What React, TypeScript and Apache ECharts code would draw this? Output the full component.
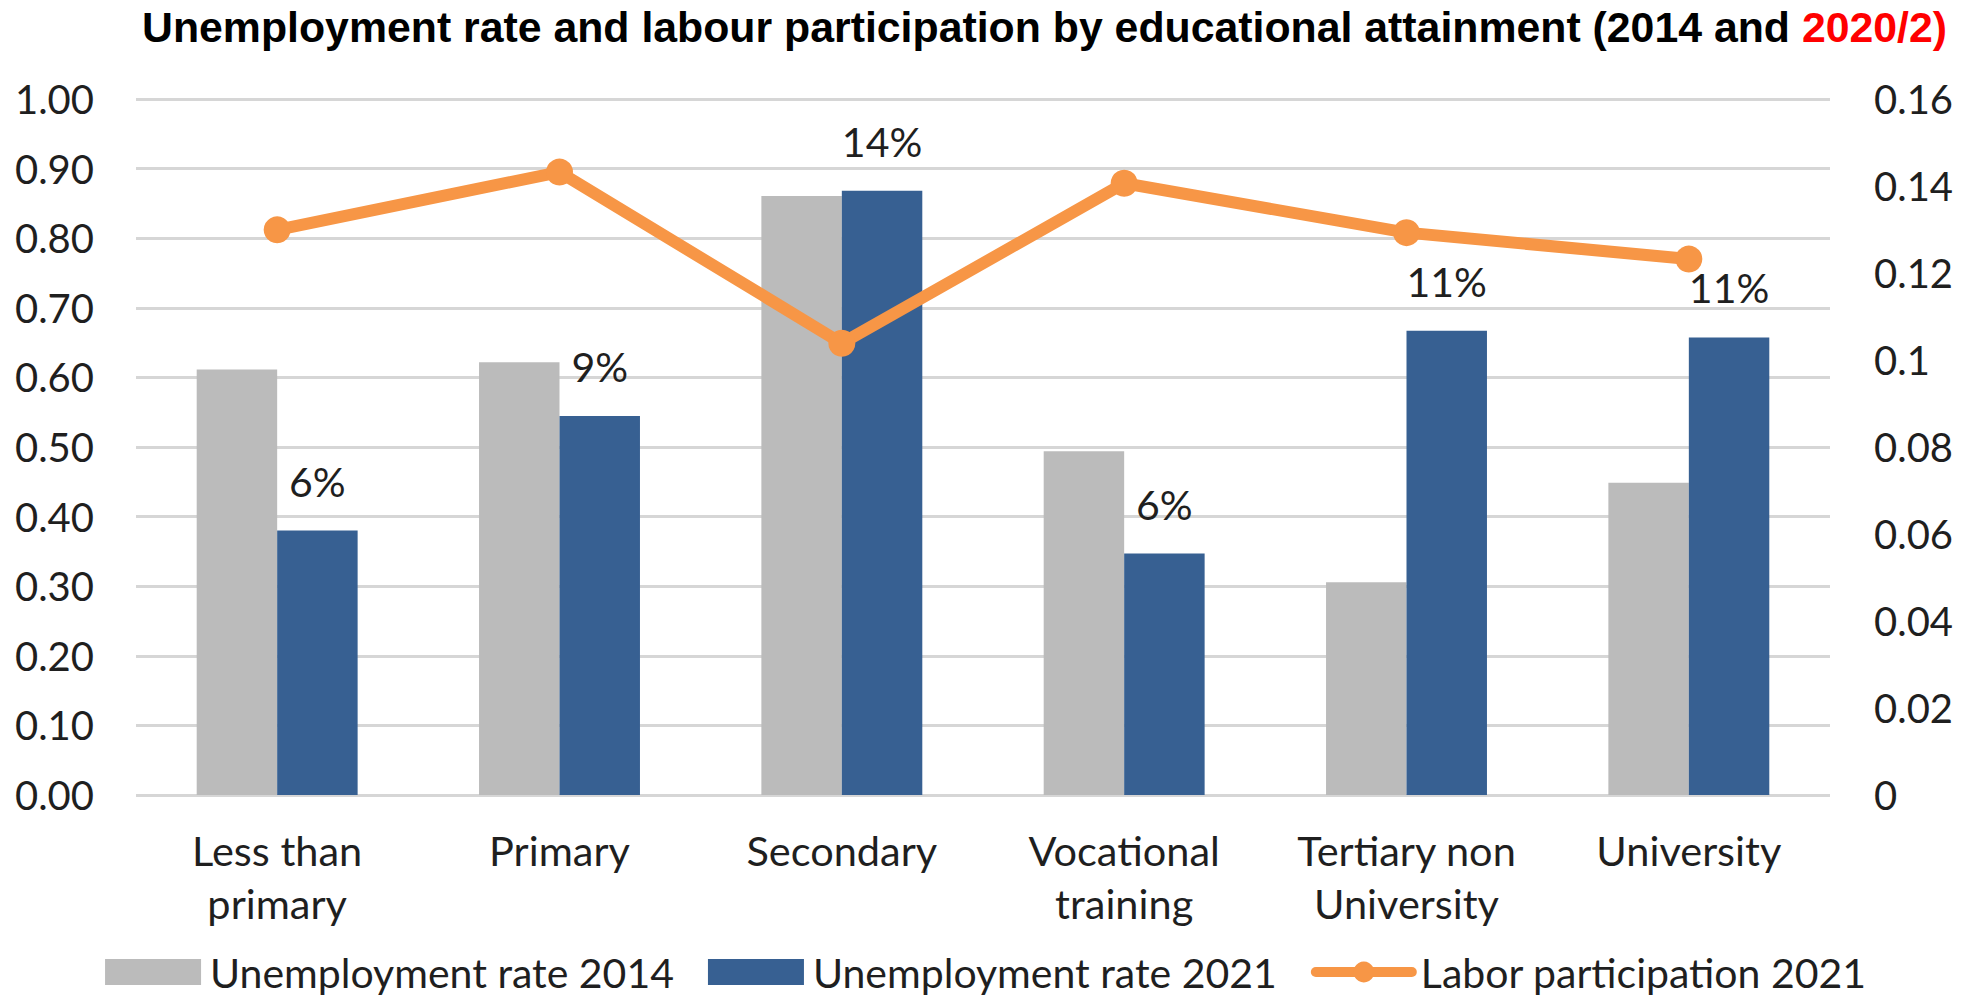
import React, { useEffect, useRef } from "react";
import * as echarts from "echarts";

const categories = [
  "Less than\nprimary",
  "Primary",
  "Secondary",
  "Vocational\ntraining",
  "Tertiary non\nUniversity",
  "University",
];
const unemployment2014 = [0.0978, 0.0995, 0.1377, 0.079, 0.0489, 0.0718];
const unemployment2021 = [0.0608, 0.0871, 0.1389, 0.0555, 0.1067, 0.1052];
const laborParticipation2021 = [0.812, 0.895, 0.649, 0.879, 0.808, 0.77];
const leftTicks = { min: 0, max: 1, interval: 0.1 };
const rightTicks = { min: 0, max: 0.16, interval: 0.02 };

const FONT = "Lato";
const TEXT = "#1f1f1f";
const ORANGE = "#f79646";

export default function App() {
  const ref = useRef<HTMLDivElement>(null);
  useEffect(() => {
    if (!ref.current) return;
    const chart = echarts.init(ref.current, undefined, { renderer: "svg" });
    chart.setOption({
      animation: false,
      backgroundColor: "#ffffff",
      title: {
        left: 137,
        top: 0,
        text: "{a|Unemployment rate and labour participation by educational attainment (2014 and }{b|2020/2)}",
        textStyle: {
          rich: {
            a: { fontFamily: "Liberation Sans", fontWeight: "bold", fontSize: 42.8, color: "#000" },
            b: { fontFamily: "Liberation Sans", fontWeight: "bold", fontSize: 42.8, color: "#ff0000" },
          },
        },
      },
      legend: {
        bottom: 0,
        left: "center",
        itemWidth: 96,
        itemHeight: 26,
        itemGap: 34,
        textStyle: {
          fontFamily: FONT,
          fontSize: 41,
          lineHeight: 44,
          color: TEXT,
          padding: [0, 0, 0, 4],
        },
        data: [
          { name: "Unemployment rate 2014", icon: "rect" },
          { name: "Unemployment rate 2021", icon: "rect" },
          {
            name: "Labor participation 2021",
            lineStyle: { width: 10, cap: "round", color: ORANGE },
          },
        ],
      },
      grid: { left: 136, right: 142, top: 99, bottom: 204 },
      xAxis: {
        type: "category",
        data: categories,
        axisLine: { show: false },
        axisTick: { show: false },
        axisLabel: {
          fontFamily: FONT,
          fontSize: 41.5,
          color: TEXT,
          margin: 28,
          lineHeight: 53,
          interval: 0,
        },
      },
      yAxis: [
        {
          type: "value",
          position: "left",
          min: leftTicks.min,
          max: leftTicks.max,
          interval: leftTicks.interval,
          axisLine: { show: false },
          axisTick: { show: false },
          axisLabel: {
            fontFamily: FONT,
            fontSize: 40,
            color: TEXT,
            margin: 42,
            formatter: (v: number) => v.toFixed(2),
          },
          splitLine: { lineStyle: { color: "#d6d6d6", width: 3 } },
        },
        {
          type: "value",
          position: "right",
          min: rightTicks.min,
          max: rightTicks.max,
          interval: rightTicks.interval,
          axisLine: { show: false },
          axisTick: { show: false },
          axisLabel: { fontFamily: FONT, fontSize: 40, color: TEXT, margin: 44 },
          splitLine: { show: false },
        },
      ],
      series: [
        {
          name: "Unemployment rate 2014",
          type: "bar",
          yAxisIndex: 1,
          data: unemployment2014,
          barWidth: "28.5%",
          barGap: "0%",
          itemStyle: { color: "#bbbbbb" },
        },
        {
          name: "Unemployment rate 2021",
          type: "bar",
          yAxisIndex: 1,
          data: unemployment2021,
          barWidth: "28.5%",
          barGap: "0%",
          itemStyle: { color: "#376092" },
          label: {
            show: true,
            position: "top",
            distance: 29,
            fontFamily: FONT,
            fontSize: 41,
            color: TEXT,
            formatter: (p: any) => Math.round(p.value * 100) + "%",
          },
        },
        {
          name: "Labor participation 2021",
          type: "line",
          yAxisIndex: 0,
          data: laborParticipation2021,
          symbol: "circle",
          symbolSize: 27,
          lineStyle: { color: ORANGE, width: 12 },
          itemStyle: { color: ORANGE },
          z: 5,
        },
      ],
    });
    return () => chart.dispose();
  }, []);
  return (
    <div
      ref={ref}
      style={{ position: "fixed", left: 0, top: 0, width: 1972, height: 999 }}
    />
  );
}
